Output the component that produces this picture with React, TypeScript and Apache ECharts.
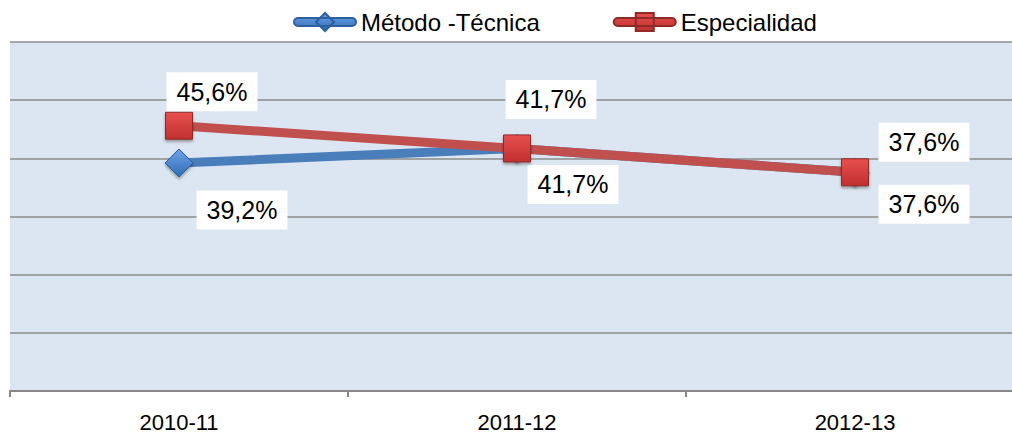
import React, { useEffect, useRef } from "react";
import * as echarts from "echarts";

const categories = ["2010-11", "2011-12", "2012-13"];
const metodoTecnica = [39.2, 41.7, 37.6];
const especialidad = [45.6, 41.7, 37.6];
const seriesNames = ["Método -Técnica", "Especialidad"];

const blueOffsets = [[63, 47], [56, 36], [69, 32]];
const redOffsets = [[33, -34], [34, -49], [69, -30]];

const fmt = (v: number) => v.toFixed(1).replace(".", ",") + "%";

const BLUE = "#4A7EBB";
const RED = "#C0504D";
const FONT = "Liberation Sans, Arial, sans-serif";

export default function App() {
  const ref = useRef<HTMLDivElement>(null);
  useEffect(() => {
    if (!ref.current) return;
    document.documentElement.style.overflow = "hidden";
    document.body.style.overflow = "hidden";
    document.body.style.margin = "0";
    const chart = echarts.init(ref.current, undefined, { renderer: "svg" });
    const labelBase = {
      show: true,
      position: "inside",
      formatter: (p: any) => fmt(p.value),
      color: "#000",
      fontSize: 25,
      fontFamily: FONT,
      backgroundColor: "#ffffff",
      padding: [5, 10, 6, 10],
      lineHeight: 28,
      align: "center",
      verticalAlign: "middle",
    };
    chart.setOption({
      animation: false,
      legend: {
        left: 293,
        top: 10,
        padding: 0,
        itemGap: 73,
        itemWidth: 62,
        itemHeight: 18,
        textStyle: { fontSize: 24, color: "#000", fontFamily: FONT },
        data: [
          {
            name: seriesNames[0],
            icon: "path://M4,5 L58,5 A4,4 0 0 1 58,13 L4,13 A4,4 0 0 1 4,5 Z M31,0 L40,9 L31,18 L22,9 Z",
          },
          {
            name: seriesNames[1],
            icon: "path://M4,5 L58,5 A4,4 0 0 1 58,13 L4,13 A4,4 0 0 1 4,5 Z M22,0 L40,0 L40,18 L22,18 Z",
          },
        ],
      },
      grid: {
        left: 10,
        right: -12,
        top: 42,
        bottom: 44,
        show: true,
        backgroundColor: "#DCE6F2",
        borderWidth: 0,
        outerBoundsMode: "none",
        containLabel: false,
      },
      xAxis: {
        type: "category",
        data: categories,
        boundaryGap: true,
        axisLine: { show: true, lineStyle: { color: "#878787", width: 2 } },
        axisTick: { show: true, length: 6, lineStyle: { color: "#878787", width: 2 } },
        axisLabel: {
          color: "#000",
          fontSize: 22,
          lineHeight: 18,
          margin: 22,
          fontFamily: FONT,
        },
      },
      yAxis: {
        type: "value",
        min: 0,
        max: 60,
        interval: 10,
        axisLine: { show: false },
        axisTick: { show: false },
        axisLabel: { show: false },
        splitLine: { show: true, lineStyle: { color: "#8C8C8C", width: 1.5 } },
      },
      series: [
        {
          name: seriesNames[0],
          type: "line",
          data: metodoTecnica.map((v, i) => ({
            value: v,
            label: { offset: blueOffsets[i] },
          })),
          symbol: "diamond",
          symbolSize: [28, 28],
          lineStyle: { color: BLUE, width: 9 },
          itemStyle: {
            color: new echarts.graphic.LinearGradient(0, 0, 0, 1, [
              { offset: 0, color: "#6FA3E6" },
              { offset: 1, color: "#2F6CB8" },
            ]),
            borderColor: "#2E5F9E",
            borderWidth: 1,
            shadowBlur: 3,
            shadowColor: "rgba(0,0,0,0.35)",
            shadowOffsetY: 2,
          },
          label: labelBase,
          z: 2,
        },
        {
          name: seriesNames[1],
          type: "line",
          data: especialidad.map((v, i) => ({
            value: v,
            label: { offset: redOffsets[i] },
          })),
          symbol: "rect",
          symbolSize: [27, 27],
          lineStyle: { color: RED, width: 9 },
          itemStyle: {
            color: new echarts.graphic.LinearGradient(0, 0, 0, 1, [
              { offset: 0, color: "#E8504E" },
              { offset: 1, color: "#C0302E" },
            ]),
            borderColor: "#8E2A28",
            borderWidth: 1,
            shadowBlur: 3,
            shadowColor: "rgba(0,0,0,0.35)",
            shadowOffsetY: 2,
          },
          label: labelBase,
          z: 3,
        },
      ],
    });
    return () => chart.dispose();
  }, []);
  return (
    <div
      ref={ref}
      style={{ position: "fixed", left: 0, top: 0, width: 1012, height: 435, background: "#fff" }}
    />
  );
}
